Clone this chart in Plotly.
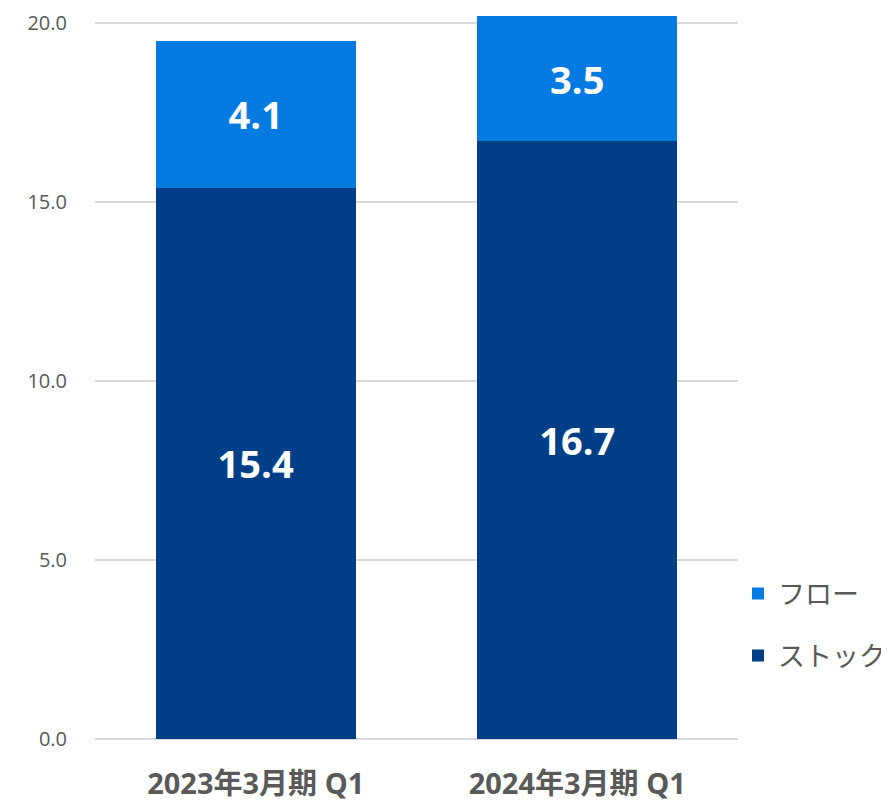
import plotly.graph_objects as go

categories = ["2023年3月期 Q1", "2024年3月期 Q1"]
stock = [15.4, 16.7]
flow = [4.1, 3.5]
y_ticks = [0, 5, 10, 15, 20]

FONT = "Open Sans, Noto Sans CJK JP, sans-serif"
W, H = 881, 796  # page body has an 8px default margin

fig = go.Figure()
fig.add_trace(go.Bar(
    x=categories, y=stock, name="ストック", legend="legend2",
    marker=dict(color="#003F87", line=dict(width=0)),
    text=[f"{v:.1f}" for v in stock], textposition="inside", insidetextanchor="middle",
    textfont=dict(color="white", size=38, family=FONT, weight="bold"),
    hoverinfo="skip",
))
fig.add_trace(go.Bar(
    x=categories, y=flow, name="フロー", legend="legend",
    marker=dict(color="#057BE2", line=dict(width=0)),
    text=[f"{v:.1f}" for v in flow], textposition="inside", insidetextanchor="middle",
    textfont=dict(color="white", size=38, family=FONT, weight="bold"),
    hoverinfo="skip",
))

leg_common = dict(
    xref="container", yref="container", x=730 / W, xanchor="left",
    yanchor="middle", font=dict(size=27, color="#595959"), itemwidth=30,
    bgcolor="rgba(0,0,0,0)", borderwidth=0,
)

fig.update_layout(
    width=W, height=H,
    barmode="stack", bargap=0.378,
    margin=dict(l=87, r=151, t=8, b=65),
    plot_bgcolor="white", paper_bgcolor="white",
    font=dict(family=FONT, color="#595959"),
    showlegend=True,
    legend=dict(y=1 - 586 / H, **leg_common),
    legend2=dict(y=1 - 648 / H, **leg_common),
    uniformtext=dict(minsize=8, mode="show"),
)
fig.update_yaxes(
    range=[0, 20.2], tickvals=y_ticks, tickformat=".1f",
    showgrid=True, gridcolor="#D9D9D9", gridwidth=1.5,
    zeroline=True, zerolinecolor="#D9D9D9", zerolinewidth=1.5,
    showline=False, tickfont=dict(size=20, color="#595959"),
    ticklabelstandoff=27, automargin=False,
)
fig.update_xaxes(
    showgrid=False, showline=False,
    tickfont=dict(size=29, color="#595959", weight="bold"),
    ticklabelstandoff=25, automargin=False,
)

fig.write_html("out.html")
